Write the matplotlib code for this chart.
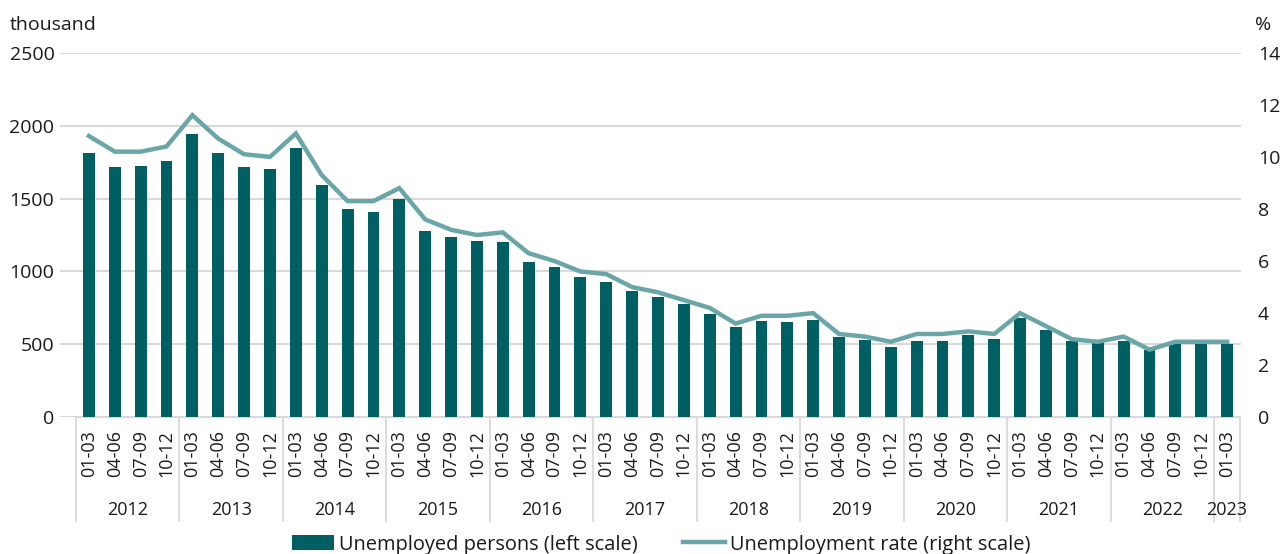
import matplotlib
matplotlib.use("Agg")
import matplotlib.pyplot as plt
from matplotlib.lines import Line2D
from matplotlib.patches import Patch

plt.rcParams['font.family'] = ['Open Sans', 'DejaVu Sans']

years = ["2012", "2013", "2014", "2015", "2016", "2017", "2018", "2019",
         "2020", "2021", "2022", "2023"]
quarters = ["01-03", "04-06", "07-09", "10-12"]
quarters_per_year = [4, 4, 4, 4, 4, 4, 4, 4, 4, 4, 4, 1]

unemployed = [1810, 1715, 1720, 1755,
              1945, 1810, 1715, 1700,
              1845, 1590, 1425, 1405,
              1500, 1280, 1235, 1210,
              1205, 1065, 1030, 960,
              925, 865, 825, 775,
              710, 620, 660, 655,
              665, 550, 530, 485,
              525, 525, 565, 535,
              680, 600, 525, 510,
              520, 460, 500, 500,
              505]
rate = [10.8, 10.2, 10.2, 10.4,
        11.6, 10.7, 10.1, 10.0,
        10.9, 9.3, 8.3, 8.3,
        8.8, 7.6, 7.2, 7.0,
        7.1, 6.3, 6.0, 5.6,
        5.5, 5.0, 4.8, 4.5,
        4.2, 3.6, 3.9, 3.9,
        4.0, 3.2, 3.1, 2.9,
        3.2, 3.2, 3.3, 3.2,
        4.0, 3.5, 3.0, 2.9,
        3.1, 2.6, 2.9, 2.9,
        2.9]

left_ticks = [0, 500, 1000, 1500, 2000, 2500]
right_ticks = [0, 2, 4, 6, 8, 10, 12, 14]

bar_color = "#005f62"
line_color = "#6aa6a8"
grid_color = "#d9d9d9"
text_color = "#1a1a1a"

labels = []
for n in quarters_per_year:
    labels.extend(quarters[:n])
x = list(range(len(unemployed)))

fig = plt.figure(figsize=(12.81, 5.54), dpi=100)
ax = fig.add_axes([0.0468, 0.2467, 0.9222, 0.6582])
ax2 = ax.twinx()

ax.bar(x, unemployed, width=0.46, color=bar_color, zorder=3)
ax2.plot(x, rate, color=line_color, lw=3.2, zorder=4, solid_joinstyle='miter')

ax.set_ylim(0, 2500)
ax2.set_ylim(0, 14)
ax.set_xlim(-1.12, 44.55)
ax.set_yticks(left_ticks)
ax2.set_yticks(right_ticks)
ax.yaxis.grid(True, color=grid_color, lw=1.5, zorder=0)
ax.set_axisbelow(True)

for a in (ax, ax2):
    for s in a.spines.values():
        s.set_visible(False)
ax.tick_params(axis='y', length=0, labelsize=14, colors=text_color, pad=4)
ax2.tick_params(axis='y', length=0, labelsize=14, colors=text_color, pad=12)

ax.set_xticks(x)
ax.set_xticklabels(labels, rotation=90, fontsize=13, color=text_color)
ax.tick_params(axis='x', length=0, pad=9)

# bottom axis line across category range
ax.plot([-0.5, 44.5], [0, 0], color=grid_color, lw=1.5, clip_on=False, zorder=2)

# year separators and labels
trans = ax.get_xaxis_transform()
start = -0.5
for yr, n in zip(years, quarters_per_year):
    end = start + n
    ax.plot([start, start], [0, -0.285], color=grid_color, lw=1.3,
            transform=trans, clip_on=False)
    ax.text((start + end) / 2, -0.255, yr, transform=trans, ha='center',
            va='center', fontsize=13, color=text_color)
    start = end
ax.plot([start, start], [0, -0.285], color=grid_color, lw=1.3,
        transform=trans, clip_on=False)

fig.text(0.008, 0.955, "thousand", fontsize=14, color=text_color,
         ha='left', va='center')
fig.text(0.980, 0.955, "%", fontsize=14, color=text_color,
         ha='left', va='center')

handles = [Patch(facecolor=bar_color, edgecolor='none'),
           Line2D([0], [0], color=line_color, lw=3.2)]
fig.legend(handles, ["Unemployed persons (left scale)",
                     "Unemployment rate (right scale)"],
           loc='center', bbox_to_anchor=(0.516, 0.017), ncol=2, frameon=False,
           fontsize=14.4, handlelength=2.1, handleheight=0.75,
           handletextpad=0.25, columnspacing=2.25, labelcolor=text_color)

fig.savefig("out.png", dpi=100, facecolor='white')
